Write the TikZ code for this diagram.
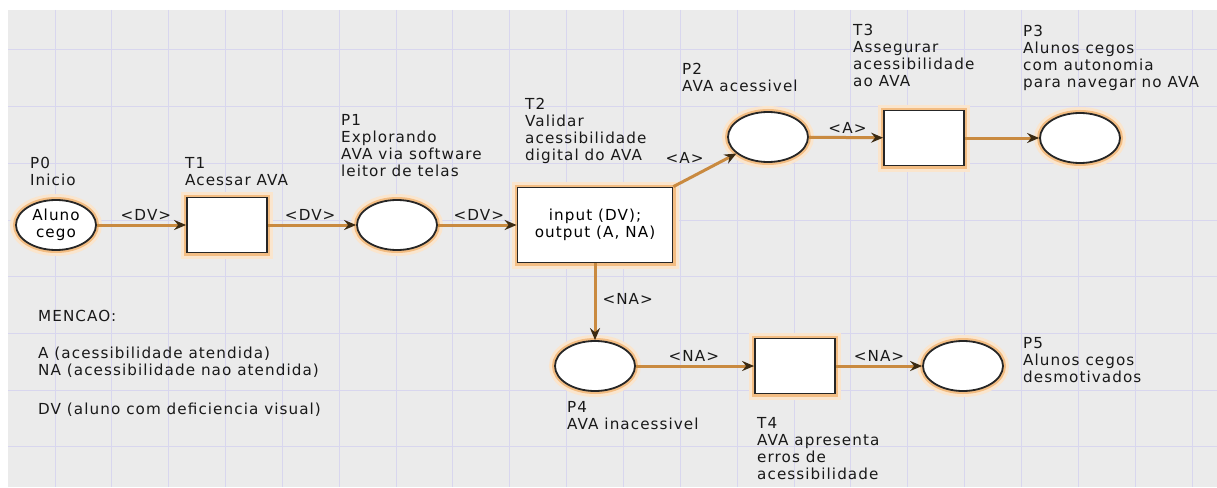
\documentclass[tikz,border=0pt]{standalone}
\usepackage{fontspec}
\setmainfont[LetterSpace=7]{DejaVu Sans}
\usetikzlibrary{arrows.meta,shapes.geometric}
\definecolor{arcorange}{HTML}{C98A40}
\definecolor{glow}{HTML}{EFA75A}
\definecolor{gridline}{HTML}{D8D6EE}
\definecolor{paper}{HTML}{EBEBEB}
\definecolor{tipdark}{HTML}{3B2A12}
\begin{document}
\begin{tikzpicture}[x=1pt, y=-1pt,
        font=\fontsize{15.2}{17}\selectfont,
        halo/.style={
            preaction={draw=glow!30, line width=12pt},
            preaction={draw=glow!75, line width=6pt}
        },
        placenode/.style={
            ellipse, draw=black!85, line width=1.8pt, fill=white, halo,
            minimum width=80pt, minimum height=50pt, inner sep=0pt, align=center
        },
        transnode/.style={
            rectangle, draw=black!85, line width=1.8pt, fill=white, halo,
            minimum width=80pt, minimum height=55pt, align=center
        },
        lbl/.style={anchor=north west, align=left, inner sep=0pt, text=black!90},
        flow/.style={draw=arcorange, line width=3pt,
            -{Stealth[length=12pt, width=10pt, inset=4pt, color=tipdark]}},
        tok/.style={above, inner sep=3pt, text=black!90},
        ]
        \useasboundingbox (0,0) rectangle (1217,487);
        \fill[paper] (8,10) rectangle (1217,487);
        \foreach \i in {0,...,20}
            \draw[gridline, line width=1pt] ({55+56.85*\i},10) -- ({55+56.85*\i},487);
        \foreach \j in {0,...,7}
            \draw[gridline, line width=1pt] (8,{50+56.7*\j}) -- (1217,{50+56.7*\j});

        \node[placenode] (p0) at (56,225) {Aluno\\cego};
        \node[transnode] (t1) at (227,225) {};
        \node[placenode] (p1) at (397,225) {};
        \node[transnode, minimum width=155pt, minimum height=75pt] (t2) at (595,225) {input (DV);\\output (A, NA)};
        \node[placenode] (p2) at (768,137) {};
        \node[transnode] (t3) at (924,138) {};
        \node[placenode] (p3) at (1080,138) {};
        \node[placenode] (p4) at (595,366) {};
        \node[transnode] (t4) at (795,366) {};
        \node[placenode] (p5) at (963,366) {};

        \node[lbl] (p0lbl) at (30,157) {P0\\Inicio};
        \node[lbl] (t1lbl) at (185,157) {T1\\Acessar AVA};
        \node[lbl] (p1lbl) at (341,114) {P1\\Explorando\\AVA via software\\leitor de telas};
        \node[lbl] (t2lbl) at (525,98) {T2\\Validar\\acessibilidade\\digital do AVA};
        \node[lbl] (p2lbl) at (682,63) {P2\\AVA acessivel};
        \node[lbl] (t3lbl) at (853,24) {T3\\Assegurar\\acessibilidade\\ao AVA};
        \node[lbl] (p3lbl) at (1023,25) {P3\\Alunos cegos\\com autonomia\\para navegar no AVA};
        \node[lbl] (p4lbl) at (567,401) {P4\\AVA inacessivel};
        \node[lbl] (t4lbl) at (757,417) {T4\\AVA apresenta\\erros de\\acessibilidade};
        \node[lbl] (p5lbl) at (1023,337) {P5\\Alunos cegos\\desmotivados};

        \node[lbl] (mencao) at (38,310) {MENCAO:};
        \node[lbl] (legenda) at (38,347) {A (acessibilidade atendida)\\NA (acessibilidade nao atendida)};
        \node[lbl] (dvlbl) at (38,403) {DV (aluno com deficiencia visual)};

        \draw[flow] (p0) -- node[tok, pos=.55] {<DV>} (t1);
        \draw[flow] (t1) -- node[tok, pos=.48] {<DV>} (p1);
        \draw[flow] (p1) -- node[tok, pos=.52] {<DV>} (t2);
        \draw[flow] (t2.north east) -- node[pos=.55, anchor=south east, inner sep=3pt, text=black!90] {<A>} (p2);
        \draw[flow] (p2) -- node[tok, pos=.52] {<A>} (t3);
        \draw[flow] (t3) -- (p3);
        \draw[flow] (t2.south) -- node[pos=.47, right, inner sep=6pt, text=black!90] {<NA>} (p4);
        \draw[flow] (p4) -- node[tok, pos=.49] {<NA>} (t4);
        \draw[flow] (t4) -- node[tok, pos=.5] {<NA>} (p5);
    \end{tikzpicture}
\end{document}
